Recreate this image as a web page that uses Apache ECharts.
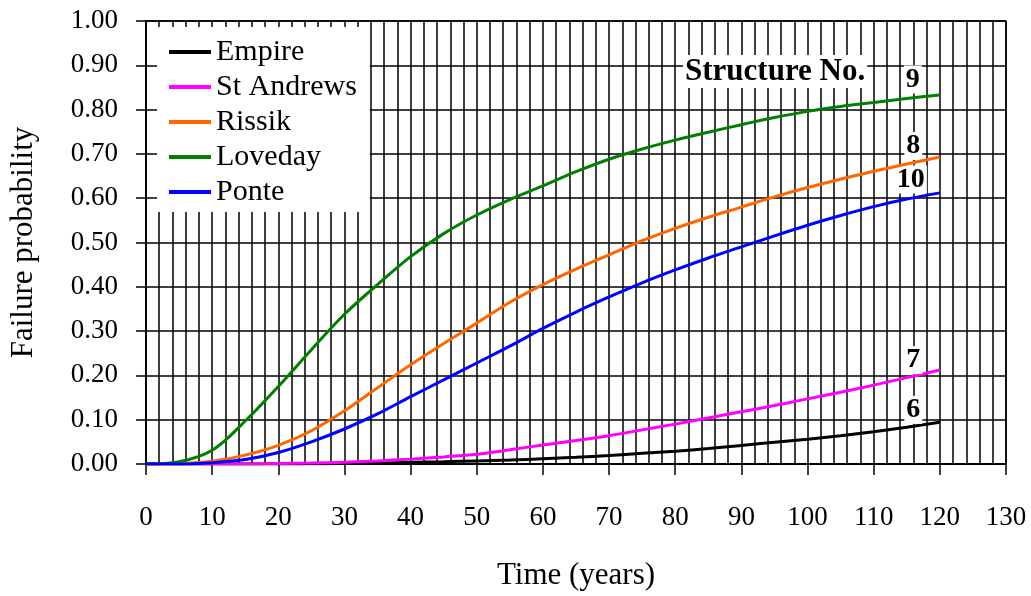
<!DOCTYPE html>
<html>
<head>
<meta charset="utf-8">
<script src="https://cdn.jsdelivr.net/npm/echarts@6/dist/echarts.min.js"></script>
<style>html,body{margin:0;padding:0;background:#fff;}#c{width:1031px;height:596px;}</style>
</head>
<body>
<div id="c"></div>
<script>
// ---- data ----
const years = [0,5,10,15,20,25,30,35,40,45,50,55,60,65,70,75,80,85,90,95,100,105,110,115,120];
const empire    = [0,0,0,0,0,0.0005,0.001,0.002,0.004,0.005,0.007,0.009,0.012,0.015,0.019,0.024,0.029,0.035,0.042,0.049,0.056,0.064,0.073,0.083,0.094];
const stAndrews = [0,0,0,0,0.001,0.002,0.004,0.007,0.011,0.016,0.022,0.032,0.043,0.053,0.064,0.077,0.09,0.104,0.118,0.132,0.147,0.162,0.178,0.195,0.212];
const rissik    = [0,0.001,0.006,0.02,0.042,0.075,0.12,0.172,0.224,0.272,0.318,0.365,0.405,0.44,0.472,0.504,0.532,0.557,0.58,0.603,0.624,0.643,0.661,0.677,0.693];
const loveday   = [0,0.005,0.031,0.097,0.175,0.258,0.338,0.405,0.468,0.52,0.562,0.597,0.628,0.66,0.688,0.711,0.731,0.749,0.766,0.782,0.796,0.807,0.816,0.825,0.833];
const ponte     = [0,0,0.003,0.01,0.026,0.05,0.079,0.113,0.152,0.19,0.228,0.266,0.306,0.343,0.377,0.409,0.438,0.465,0.49,0.515,0.539,0.561,0.581,0.598,0.612];
const seriesNames = ['Empire','St Andrews','Rissik','Loveday','Ponte'];
const structureNos = ['6','7','8','9','10'];
const xTicks = [0,10,20,30,40,50,60,70,80,90,100,110,120,130];
const yTicks = [0,0.1,0.2,0.3,0.4,0.5,0.6,0.7,0.8,0.9,1.0];

// ---- styles ----
const colors = ['#000000','#ff00ff','#ff6600','#008000','#0000ff'];
const labelOffsets = [[-26.5,-12.5],[-26.5,-10],[-26.5,-11],[-27,-15.5],[-29,-13.5]];
const FONT = '"Liberation Serif", "Times New Roman", serif';

const values = [empire, stAndrews, rissik, loveday, ponte];
const series = values.map((v, i) => {
  const data = years.map((t, k) => [t, v[k]]);
  const last = data[data.length - 1];
  return {
    name: seriesNames[i],
    type: 'line',
    data: data,
    showSymbol: false,
    symbol: 'none',
    smooth: 0.35,
    color: colors[i],
    lineStyle: { color: colors[i], width: 3 },
    z: 3 + i,
    silent: true,
    markPoint: {
      silent: true,
      symbol: 'circle',
      symbolSize: 1,
      itemStyle: { color: 'rgba(0,0,0,0)' },
      data: [{
        coord: last,
        label: {
          show: true,
          position: 'inside',
          formatter: structureNos[i],
          offset: labelOffsets[i],
          fontFamily: FONT,
          fontWeight: 'bold',
          fontSize: 28,
          color: '#000',
          backgroundColor: '#fff',
          padding: [0, 2]
        }
      }]
    }
  };
});

const chart = echarts.init(document.getElementById('c'), null, { renderer: 'canvas' });
chart.setOption({
  animation: false,
  backgroundColor: '#fff',
  grid: {
    left: 143, right: 25, top: 21, bottom: 124,
    show: true, borderColor: '#000', borderWidth: 1.5, backgroundColor: 'transparent'
  },
  legend: {
    orient: 'vertical',
    left: 157, top: 27,
    padding: [10, 13, 5, 12],
    itemWidth: 42, itemHeight: 4, itemGap: 5,
    icon: 'rect',
    backgroundColor: '#fff',
    data: seriesNames,
    textStyle: { fontFamily: FONT, fontSize: 30, lineHeight: 30, color: '#000' },
    selectedMode: false
  },
  xAxis: {
    type: 'value',
    min: xTicks[0], max: xTicks[xTicks.length - 1], interval: 10,
    name: 'Time (years)',
    nameLocation: 'middle',
    nameGap: 96,
    nameTextStyle: { fontFamily: FONT, fontSize: 31, color: '#000' },
    axisLine: { show: true, lineStyle: { color: '#000', width: 1.5 } },
    axisTick: { show: true, length: 11, lineStyle: { color: '#000', width: 1.5 } },
    axisLabel: { fontFamily: FONT, fontSize: 27, color: '#000', margin: 40 },
    splitLine: { show: true, lineStyle: { color: '#000', width: 1.5 } },
    minorTick: { show: false, splitNumber: 5 },
    minorSplitLine: { show: true, lineStyle: { color: '#000', width: 1.5 } }
  },
  yAxis: {
    type: 'value',
    min: yTicks[0], max: yTicks[yTicks.length - 1], interval: 0.1,
    name: 'Failure probability',
    nameLocation: 'middle',
    nameGap: 107,
    nameTextStyle: { fontFamily: FONT, fontSize: 31, color: '#000' },
    axisLine: { show: true, lineStyle: { color: '#000', width: 1.5 } },
    axisTick: { show: true, length: 10, lineStyle: { color: '#000', width: 1.5 } },
    axisLabel: { fontFamily: FONT, fontSize: 27, color: '#000', margin: 28,
      formatter: v => v.toFixed(2) },
    splitLine: { show: true, lineStyle: { color: '#000', width: 1.5 } }
  },
  graphic: [{
    type: 'text',
    left: 683, top: 55, z: 100,
    style: {
      text: 'Structure No.',
      font: 'bold 31px ' + FONT,
      fill: '#000',
      backgroundColor: '#fff',
      padding: [1, 2]
    }
  }],
  series: series
});
</script>
</body>
</html>
